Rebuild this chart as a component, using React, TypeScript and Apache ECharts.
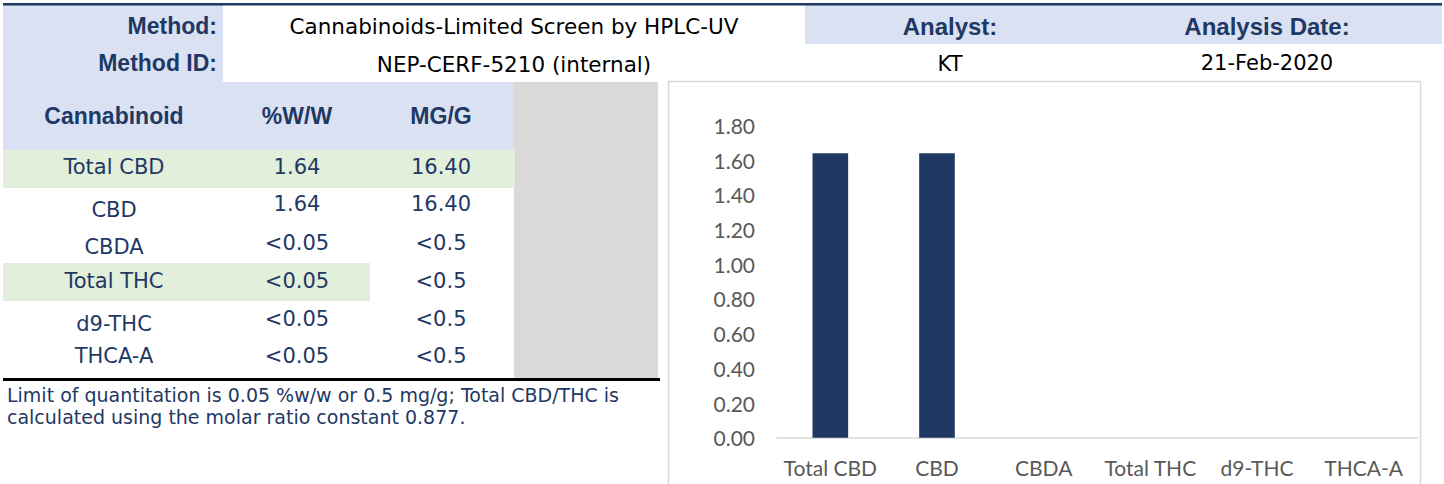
import React, { useEffect, useRef } from "react";
import * as echarts from "echarts";

// ---- data ----
const cannabinoids = ["Total CBD", "CBD", "CBDA", "Total THC", "d9-THC", "THCA-A"];
const pctWW = ["1.64", "1.64", "<0.05", "<0.05", "<0.05", "<0.05"];
const mgG = ["16.40", "16.40", "<0.5", "<0.5", "<0.5", "<0.5"];
const chartValues = [1.64, 1.64, 0, 0, 0, 0];
const yTicks = [0, 0.2, 0.4, 0.6, 0.8, 1.0, 1.2, 1.4, 1.6, 1.8];
const methodName = "Cannabinoids-Limited Screen by HPLC-UV";
const methodId = "NEP-CERF-5210 (internal)";
const analyst = "KT";
const analysisDate = "21-Feb-2020";
const headers = ["Cannabinoid", "%W/W", "MG/G"];
const footnoteLines = [
  "Limit of quantitation is 0.05 %w/w or 0.5 mg/g; Total CBD/THC is",
  "calculated using the molar ratio constant 0.877.",
];

// ---- styles / layout ----
const NAVY = "#1f3864";
const BAR = "#203864";
const BLUE = "#d9e1f2";
const GREEN = "#e2efda";
const GRAY = "#d9d9d9";
const VERDANA = "'DejaVu Sans', Verdana, sans-serif";
const ARIAL = "'Liberation Sans', Arial, sans-serif";
const CALIBRI = "Lato, 'Open Sans', sans-serif";
const labelY = [167, 210, 247, 281, 324, 356];
const valueY = [167, 204, 243, 281, 319, 356];
const greenRows: Record<number, number> = { 0: 515, 3: 370 };

function txt(text: string, x: number, y: number, font: string, fill: string, align = "center") {
  return {
    type: "text",
    silent: true,
    style: {
      text, x, y, font, fill,
      align, textAlign: align,
      verticalAlign: "middle", textVerticalAlign: "middle",
    },
  };
}

function rect(x: number, y: number, w: number, h: number, fill: string) {
  return { type: "rect", silent: true, shape: { x, y, width: w, height: h }, style: { fill } };
}

export default function App() {
  const ref = useRef<HTMLDivElement>(null);
  useEffect(() => {
    if (!ref.current) return;
    const chart = echarts.init(ref.current, null, { renderer: "svg" });

    const elements: any[] = [];
    // backgrounds
    elements.push(rect(3, 5, 220, 145, BLUE));
    elements.push(rect(223, 82, 292, 68, BLUE));
    elements.push(rect(805, 5, 637, 39, BLUE));
    elements.push(rect(514, 82, 144, 296, GRAY));
    cannabinoids.forEach((_, i) => {
      if (greenRows[i] !== undefined) {
        const top = 150 + i * 37.7;
        elements.push(rect(3, top, greenRows[i] - 3, 38, GREEN));
      }
    });
    // top rule
    elements.push(rect(3, 3, 1439, 2.5, NAVY));
    // table bottom rule
    elements.push(rect(3, 378, 657, 3, "#000000"));
    // chart border
    elements.push({
      type: "rect", silent: true,
      shape: { x: 668.5, y: 81.5, width: 752, height: 420 },
      style: { fill: "none", stroke: GRAY, lineWidth: 1.5 },
    });

    // header texts
    const boldLab = `bold 23px ${ARIAL}`;
    elements.push(txt("Method:", 217, 26, boldLab, NAVY, "right"));
    elements.push(txt("Method ID:", 217, 63, boldLab, NAVY, "right"));
    elements.push(txt(methodName, 514, 26, `21.5px ${VERDANA}`, "#000"));
    elements.push(txt(methodId, 514, 64, `21.5px ${VERDANA}`, "#000"));
    elements.push(txt("Analyst:", 950, 26, `bold 24px ${ARIAL}`, NAVY));
    elements.push(txt("Analysis Date:", 1267, 26, `bold 24px ${ARIAL}`, NAVY));
    elements.push(txt(analyst, 950, 64, `21px ${VERDANA}`, "#000"));
    elements.push(txt(analysisDate, 1267, 63, `21px ${VERDANA}`, "#000"));

    // table header
    const colX = [114, 297, 441];
    headers.forEach((h, i) => {
      elements.push(txt(h, colX[i], 116, `bold 23px ${ARIAL}`, NAVY));
    });
    cannabinoids.forEach((c, i) => {
      elements.push(txt(c, colX[0], labelY[i], `21px ${VERDANA}`, NAVY));
      elements.push(txt(pctWW[i], colX[1], valueY[i], `21px ${VERDANA}`, NAVY));
      elements.push(txt(mgG[i], colX[2], valueY[i], `21px ${VERDANA}`, NAVY));
    });
    footnoteLines.forEach((l, i) => {
      elements.push(txt(l, 7, 395 + i * 22, `19px ${VERDANA}`, NAVY, "left"));
    });

    chart.setOption({
      animation: false,
      grid: { left: 777, right: 27, top: 125.4, bottom: 46.3, containLabel: false },
      xAxis: {
        type: "category",
        data: cannabinoids,
        axisLine: { lineStyle: { color: GRAY, width: 1.5 } },
        axisTick: { show: false },
        axisLabel: { color: "#595959", fontFamily: CALIBRI, fontSize: 21, margin: 19, interval: 0 },
      },
      yAxis: {
        type: "value",
        min: yTicks[0],
        max: yTicks[yTicks.length - 1],
        interval: 0.2,
        axisLine: { show: false },
        axisTick: { show: false },
        splitLine: { show: false },
        axisLabel: {
          color: "#595959", fontFamily: CALIBRI, fontSize: 21, margin: 22,
          formatter: (v: number) => v.toFixed(2),
        },
      },
      series: [
        {
          type: "bar",
          data: chartValues,
          barWidth: "33.4%",
          itemStyle: { color: BAR },
        },
      ],
      graphic: { elements },
    });
    return () => chart.dispose();
  }, []);
  return (
    <div
      ref={ref}
      style={{ position: "absolute", left: 0, top: 0, width: 1444, height: 484, background: "#fff" }}
    />
  );
}
